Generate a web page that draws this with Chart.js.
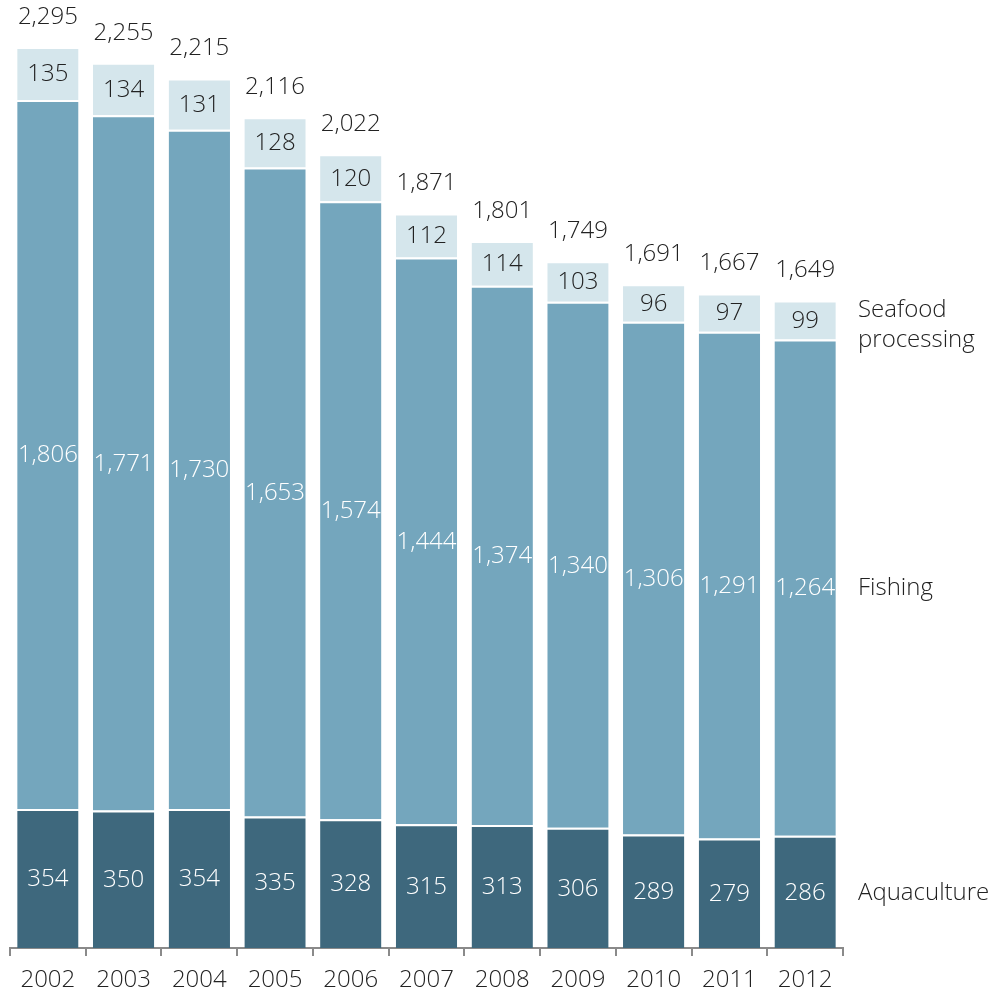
<!DOCTYPE html>
<html>
<head>
<meta charset="utf-8">
<script src="https://cdn.jsdelivr.net/npm/chart.js@4/dist/chart.umd.min.js"></script>
<style>
  html, body { margin: 0; padding: 0; background: #fff; }
  #wrap { width: 989px; height: 993px; }
</style>
</head>
<body>
<div id="wrap"><canvas id="chart" width="989" height="993"></canvas></div>
<script>
const years = ['2002', '2003', '2004', '2005', '2006', '2007', '2008', '2009', '2010', '2011', '2012'];
const aquaculture = [354, 350, 354, 335, 328, 315, 313, 306, 289, 279, 286];
const fishing = [1806, 1771, 1730, 1653, 1574, 1444, 1374, 1340, 1306, 1291, 1264];
const seafood = [135, 134, 131, 128, 120, 112, 114, 103, 96, 97, 99];
const totals = [2295, 2255, 2215, 2116, 2022, 1871, 1801, 1749, 1691, 1667, 1649];
const seriesNames = ['Aquaculture', 'Fishing', 'Seafood\nprocessing'];

const FONT = '"Open Sans", Lato, sans-serif';
const fmt = v => v.toLocaleString('en-US');

// draws the numbers in/above the bars and the series names on the right
const labelPlugin = {
  id: 'labels',
  afterDatasetsDraw(chart) {
    const ctx = chart.ctx;
    ctx.save();
    ctx.font = '300 24px ' + FONT;
    ctx.textAlign = 'center';
    ctx.textBaseline = 'middle';
    const textColors = ['#ffffff', '#ffffff', '#222222'];
    chart.data.datasets.forEach((ds, i) => {
      const meta = chart.getDatasetMeta(i);
      meta.data.forEach((bar, j) => {
        const mid = (bar.y + bar.base) / 2;
        ctx.fillStyle = textColors[i];
        ctx.fillText(fmt(ds.data[j]), bar.x, mid + 1);
      });
    });
    // totals
    const top = chart.getDatasetMeta(2);
    top.data.forEach((bar, j) => {
      ctx.fillStyle = '#222222';
      ctx.fillText(fmt(totals[j]), bar.x, bar.y - 30);
    });
    // series names next to last bar
    ctx.textAlign = 'left';
    ctx.fillStyle = '#222222';
    const x = chart.chartArea.right + 15;
    seriesNames.forEach((name, i) => {
      const bar = chart.getDatasetMeta(i).data[years.length - 1];
      const mid = (bar.y + bar.base) / 2 + (i === 2 ? 5 : 1);
      const lines = name.split('\n');
      lines.forEach((ln, k) => {
        ctx.fillText(ln, x, mid + (k - (lines.length - 1) / 2) * 30);
      });
    });
    ctx.restore();
  }
};

const barOpts = {
  barPercentage: 0.81,
  categoryPercentage: 1,
  borderColor: '#ffffff',
  borderWidth: { top: 2, left: 0, right: 0, bottom: 0 },
  borderSkipped: false
};

new Chart(document.getElementById('chart'), {
  type: 'bar',
  data: {
    labels: years,
    datasets: [
      Object.assign({ label: 'Aquaculture', data: aquaculture, backgroundColor: '#3e687d' }, barOpts),
      Object.assign({ label: 'Fishing', data: fishing, backgroundColor: '#74a6bd' }, barOpts),
      Object.assign({ label: 'Seafood processing', data: seafood, backgroundColor: '#d5e6ec' }, barOpts)
    ]
  },
  options: {
    responsive: false,
    animation: false,
    layout: { padding: { top: 47, left: 10, right: 146, bottom: 0 } },
    plugins: { legend: { display: false }, tooltip: { enabled: false } },
    scales: {
      x: {
        stacked: true,
        afterFit(scale) { scale.height = 45; },
        border: { display: true, color: '#8a8a8a', width: 2 },
        grid: { display: true, drawOnChartArea: false, color: '#8a8a8a', lineWidth: 2, tickLength: 8, offset: true },
        ticks: { color: '#222222', font: { family: FONT, size: 24, weight: 300 }, padding: 10 }
      },
      y: {
        stacked: true,
        display: false,
        min: 0,
        max: 2295
      }
    }
  },
  plugins: [labelPlugin]
});
</script>
</body>
</html>
